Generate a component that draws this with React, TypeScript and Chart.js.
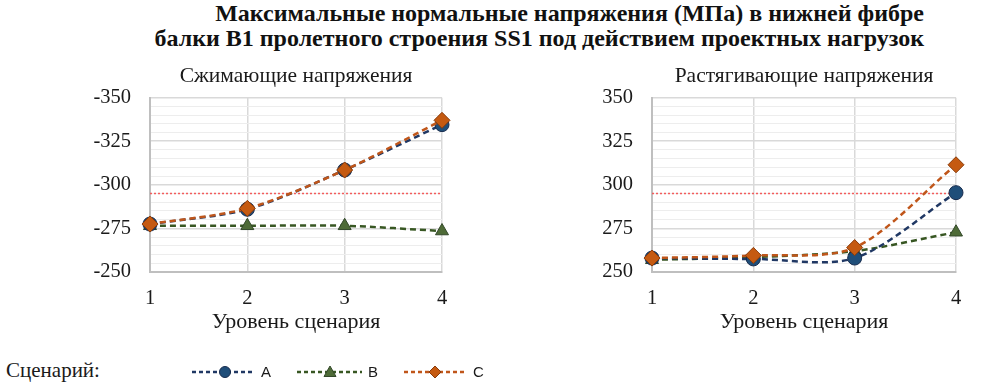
import React, { useEffect, useRef } from 'react';
import { Chart, registerables } from 'chart.js';

Chart.register(...registerables);

// ---- data ----
const levels = ['1', '2', '3', '4'];

const compressA = [-277.5, -286, -308.5, -334.5];
const compressB = [-276.5, -276.5, -276.5, -273.5];
const compressC = [-277.5, -286.5, -308.5, -337];
const compressLimit = [-295, -295, -295, -295];

const tensionA = [258, 257.5, 258, 295.5];
const tensionB = [257, 258.5, 262, 272.8];
const tensionC = [258, 259.5, 264, 311.5];
const tensionLimit = [295, 295, 295, 295];

const compressMajorTicks = [-350, -325, -300, -275, -250];
const tensionMajorTicks = [250, 275, 300, 325, 350];

const SERIF = "'Liberation Serif', 'Times New Roman', serif";
const SANS = "'Liberation Sans', Arial, sans-serif";
const TEXT = '#1a1a1a';

const colA = { line: '#203864', fill: '#1F4E79', edge: '#172B4D' };
const colB = { line: '#385723', fill: '#4E6B37', edge: '#33482A' };
const colC = { line: '#C0561A', fill: '#C55A11', edge: '#8A3B0A' };

function buildConfig(opts: {
  title: string;
  a: number[];
  b: number[];
  c: number[];
  limit: number[];
  min: number;
  max: number;
  reverse: boolean;
  majors: number[];
  yWidth: number;
  rightPad: number;
}): any {
  const isMajor = (v: number) => opts.majors.some((m) => Math.abs(m - v) < 1e-6);
  const series = (label: string, data: number[], col: any, style: string, radius: number, order: number) => ({
    label,
    data,
    borderColor: col.line,
    borderWidth: 2.5,
    borderDash: [6, 4],
    backgroundColor: col.fill,
    pointBackgroundColor: col.fill,
    pointBorderColor: col.edge,
    pointBorderWidth: 1,
    pointStyle: style,
    pointRadius: radius,
    tension: 0.3,
    fill: false,
    order,
  });
  return {
    type: 'line',
    data: {
      labels: levels,
      datasets: [
        series('C', opts.c, colC, 'rectRot', 8, 1),
        series('A', opts.a, colA, 'circle', 7, 2),
        series('B', opts.b, colB, 'triangle', 7.5, 3),
        {
          label: 'limit',
          data: opts.limit,
          borderColor: '#F25C5C',
          borderWidth: 1.5,
          borderDash: [2, 2],
          pointRadius: 0,
          tension: 0,
          fill: false,
          order: 4,
        },
      ],
    },
    options: {
      responsive: false,
      animation: false,
      events: [],
      layout: { padding: { left: 0, right: opts.rightPad, top: 0, bottom: 6 } },
      plugins: {
        legend: { display: false },
        tooltip: { enabled: false },
        title: {
          display: true,
          text: opts.title,
          fullSize: false,
          color: TEXT,
          font: { family: SERIF, size: 21.5, weight: 'normal', lineHeight: 1.1 },
          padding: { top: 5, bottom: 9 },
        },
      },
      scales: {
        x: {
          type: 'category',
          offset: false,
          afterFit: (s: any) => {
            s.height = 62;
          },
          grid: { color: '#D9D9D9', lineWidth: 1.5, drawTicks: false },
          border: { display: true, color: '#BFBFBF', width: 2 },
          ticks: { padding: 14, color: TEXT, font: { family: SERIF, size: 20.5 } },
          title: {
            display: true,
            text: 'Уровень сценария',
            color: TEXT,
            font: { family: SERIF, size: 22, lineHeight: 1.1 },
            padding: { top: 0, bottom: 0 },
          },
        },
        y: {
          type: 'linear',
          min: opts.min,
          max: opts.max,
          reverse: opts.reverse,
          afterFit: (s: any) => {
            s.width = opts.yWidth;
          },
          ticks: {
            stepSize: 5,
            autoSkip: false,
            maxTicksLimit: 100,
            padding: 19,
            color: TEXT,
            font: { family: SERIF, size: 20.5 },
            callback: (v: any) => (isMajor(Number(v)) ? String(Math.round(Number(v))) : ''),
          },
          grid: {
            drawTicks: false,
            color: (ctx: any) => (ctx.tick && isMajor(ctx.tick.value) ? '#D9D9D9' : '#EDEDED'),
            lineWidth: (ctx: any) => (ctx.tick && isMajor(ctx.tick.value) ? 1.5 : 1),
          },
          border: { display: true, color: '#BFBFBF', width: 2 },
        },
      },
    },
  };
}

function ChartBox(props: { config: any; left: number; top: number; width: number; height: number }) {
  const ref = useRef<HTMLCanvasElement | null>(null);
  useEffect(() => {
    if (!ref.current) return;
    const chart = new Chart(ref.current, props.config);
    return () => chart.destroy();
  }, []);
  return (
    <div style={{ position: 'absolute', left: props.left, top: props.top, width: props.width, height: props.height }}>
      <canvas ref={ref} width={props.width} height={props.height} style={{ width: props.width, height: props.height }} />
    </div>
  );
}

function LegendSymbol(props: { x1: number; x2: number; cx: number; y: number; col: any; shape: string }) {
  const { x1, x2, cx, y, col, shape } = props;
  let marker: any = null;
  if (shape === 'circle') marker = <circle cx={cx} cy={y} r={5.5} fill={col.fill} stroke={col.edge} strokeWidth={1} />;
  if (shape === 'triangle')
    marker = (
      <polygon points={`${cx},${y - 6} ${cx + 6},${y + 4.5} ${cx - 6},${y + 4.5}`} fill={col.fill} stroke={col.edge} strokeWidth={1} />
    );
  if (shape === 'diamond')
    marker = (
      <polygon points={`${cx},${y - 6} ${cx + 6},${y} ${cx},${y + 6} ${cx - 6},${y}`} fill={col.fill} stroke={col.edge} strokeWidth={1} />
    );
  return (
    <g>
      <line x1={x1} y1={y} x2={x2} y2={y} stroke={col.line} strokeWidth={2.5} strokeDasharray="4 3" />
      {marker}
    </g>
  );
}

export default function App() {
  const leftCfg = buildConfig({
    title: 'Сжимающие напряжения',
    a: compressA,
    b: compressB,
    c: compressC,
    limit: compressLimit,
    min: -350,
    max: -250,
    reverse: true,
    majors: compressMajorTicks,
    yWidth: 150,
    rightPad: 38,
  });
  const rightCfg = buildConfig({
    title: 'Растягивающие напряжения',
    a: tensionA,
    b: tensionB,
    c: tensionC,
    limit: tensionLimit,
    min: 250,
    max: 350,
    reverse: false,
    majors: tensionMajorTicks,
    yWidth: 152,
    rightPad: 44,
  });

  return (
    <div
      style={{
        position: 'absolute',
        left: 0,
        top: 0,
        width: 1000,
        height: 389,
        background: '#ffffff',
        overflow: 'hidden',
      }}
    >
      <div
        style={{
          position: 'absolute',
          top: 1,
          right: 76,
          textAlign: 'right',
          fontFamily: SERIF,
          fontWeight: 'bold',
          fontSize: 24,
          lineHeight: '25px',
          color: '#111',
          whiteSpace: 'nowrap',
        }}
      >
        <div>Максимальные нормальные напряжения (МПа) в нижней фибре</div>
        <div>балки B1 пролетного строения SS1 под действием проектных нагрузок</div>
      </div>

      <ChartBox config={leftCfg} left={0} top={60} width={480} height={280} />
      <ChartBox config={rightCfg} left={500} top={60} width={500} height={280} />

      <div
        style={{
          position: 'absolute',
          left: 6,
          top: 360,
          fontFamily: SERIF,
          fontSize: 21,
          lineHeight: '20px',
          color: TEXT,
          whiteSpace: 'nowrap',
        }}
      >
        Сценарий:
      </div>
      <svg width={1000} height={389} style={{ position: 'absolute', left: 0, top: 0 }}>
        <LegendSymbol x1={192} x2={255} cx={225} y={372} col={colA} shape="circle" />
        <LegendSymbol x1={297} x2={362} cx={330} y={372} col={colB} shape="triangle" />
        <LegendSymbol x1={404} x2={464} cx={435} y={372} col={colC} shape="diamond" />
      </svg>
      {[
        { t: 'A', x: 261 },
        { t: 'B', x: 368 },
        { t: 'C', x: 473 },
      ].map((it) => (
        <div
          key={it.t}
          style={{
            position: 'absolute',
            left: it.x,
            top: 363,
            fontFamily: SANS,
            fontSize: 15,
            lineHeight: '17px',
            color: TEXT,
          }}
        >
          {it.t}
        </div>
      ))}
    </div>
  );
}
